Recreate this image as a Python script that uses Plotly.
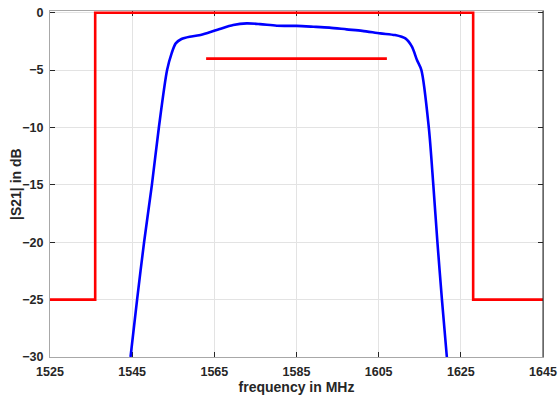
import plotly.graph_objects as go

# Filter response |S21| (blue)
freq_mhz = [1544.6, 1546.2, 1547.9, 1549.8, 1551.5, 1553.5, 1554.6, 1555.6,
            1557.0, 1559.0, 1561.3, 1563.5, 1566.3, 1569.6, 1572.9, 1576.1,
            1580.2, 1585.0, 1589.1, 1593.0, 1597.2, 1601.0, 1605.4, 1609.0, 1611.5,
            1613.1, 1614.3, 1615.4, 1617.2, 1618.3, 1619.3,
            1620.4, 1621.6]
s21_db = [-30, -25, -20, -15, -10, -5.0, -3.54, -2.67,
          -2.29, -2.09, -1.97, -1.75, -1.42, -1.07, -0.93, -0.99,
          -1.13, -1.15, -1.22, -1.3, -1.45, -1.58, -1.8, -1.95, -2.24,
          -2.96, -4.1, -5.0, -10.0, -15, -20,
          -25, -30]

# Specification mask (red)
mask_freq = [1525, 1536, 1536, 1628, 1628, 1645]
mask_db = [-25, -25, 0, 0, -25, -25]

# Passband requirement line (red)
req_freq = [1563, 1607]
req_db = [-4, -4]

x_ticks = [1525, 1545, 1565, 1585, 1605, 1625, 1645]
y_ticks = [-30, -25, -20, -15, -10, -5, 0]

fig = go.Figure()
fig.add_trace(go.Scatter(x=mask_freq, y=mask_db, mode="lines",
                         line=dict(color="#ff0000", width=2.6), cliponaxis=False))
fig.add_trace(go.Scatter(x=req_freq, y=req_db, mode="lines",
                         line=dict(color="#ff0000", width=2.6)))
fig.add_trace(go.Scatter(x=freq_mhz, y=s21_db, mode="lines",
                         line=dict(color="#0000ff", width=2.6, shape="spline", smoothing=0.8)))

font_family = "Liberation Sans, Arial, sans-serif"
axis_common = dict(
    showgrid=True, gridcolor="#e3e3e3", gridwidth=1,
    showline=True, linecolor="#a8a8a8", linewidth=1, mirror="ticks",
    ticks="inside", ticklen=5, tickcolor="#262626", tickwidth=1,
    zeroline=False, layer="below traces", automargin=False,
    tickfont=dict(family=font_family, size=12.5, color="#262626", weight="bold"),
)

plot_w = 558 - 50 - 15

fig.update_layout(
    width=558, height=400,
    margin=dict(l=50, r=15, t=11, b=43),
    paper_bgcolor="white", plot_bgcolor="white",
    showlegend=False,
    font=dict(family=font_family, color="#262626"),
    xaxis=dict(range=[1525, 1645], tickvals=x_ticks,
               title=dict(text="frequency in MHz", standoff=4,
                          font=dict(family=font_family, size=14, color="#262626", weight="bold")),
               ticklabelstandoff=3, **axis_common),
    yaxis=dict(range=[-30, 0.15], tickvals=y_ticks,
               ticklabelstandoff=3, **axis_common),
    annotations=[dict(text="|S21| in dB", xref="paper", yref="paper",
                      x=-(50 - 16) / plot_w, y=0.5, xanchor="center", yanchor="middle",
                      textangle=-90, showarrow=False,
                      font=dict(family=font_family, size=14, color="#262626", weight="bold"))],
    shapes=[dict(type="line", xref="paper", yref="paper", x0=1, x1=1, y0=0, y1=1,
                 line=dict(color="#262626", width=1))],
)

fig.write_html("out.html", config={"displayModeBar": False},
               post_script="document.body.style.margin='0';document.body.style.padding='0';"
                           "document.documentElement.style.overflow='hidden';")
